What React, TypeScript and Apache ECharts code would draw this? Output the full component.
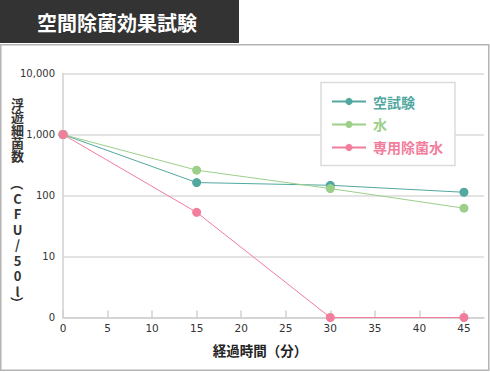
import React, { useEffect, useRef } from 'react';
import * as echarts from 'echarts';

const minutes = [0, 15, 30, 45];
const xTicks = [0, 5, 10, 15, 20, 25, 30, 35, 40, 45];
const yTicks = [1, 10, 100, 1000, 10000];
const seriesNames = ['空試験', '水', '専用除菌水'];
const blankTest = [1000, 163, 147, 113];
const water = [1000, 260, 130, 62];
const special = [1000, 53, 0, 0];
const colors = ['#52a89f', '#9ccf8a', '#f27d9c'];
const titleText = '空間除菌効果試験';
const xName = '経過時間（分）';
const yNameChars = ['浮', '遊', '細', '菌', '数', '（', 'C', 'F', 'U', '/', '5', '0', 'l', '）'];

const CJK = "'Noto Sans CJK JP', 'Noto Sans', sans-serif";
const NUM = "'DejaVu Sans', 'Noto Sans CJK JP', sans-serif";

// zero counts sit on the axis floor (shown as "0")
const toLog = (v: number) => (v <= 0 ? 1 : v);
const fmtNum = (v: number) => (v <= 1 ? '0' : Math.round(v).toLocaleString('en-US'));

export default function App() {
  const ref = useRef<HTMLDivElement>(null);
  useEffect(() => {
    if (!ref.current) return;
    const chart = echarts.init(ref.current, null, { renderer: 'svg' });
    const allSeries = [blankTest, water, special];

    const yNameY = [103, 116, 129, 142, 155, 184, 198, 213.5, 229, 244.5, 260, 275.5, 291, 303];
    const yNameEls = yNameChars.map((ch, i) => ({
      type: 'text',
      x: 17.5,
      y: yNameY[i],
      rotation: ch === '（' || ch === '）' ? -Math.PI / 2 : 0,
      style: {
        text: ch,
        fill: '#333',
        font: `bold 13px ${CJK}`,
        align: 'center',
        verticalAlign: 'middle',
        textAlign: 'center',
        textVerticalAlign: 'middle',
      },
      z: 10,
    }));

    chart.setOption({
      animation: false,
      grid: { left: 63, right: 6, top: 73.5, bottom: 54.5, containLabel: false },
      xAxis: {
        type: 'value',
        min: 0,
        max: 47.25,
        interval: 5,
        axisLine: { show: true, lineStyle: { color: '#d0d0d0', width: 1.5 } },
        axisTick: { show: true, inside: true, length: 7, customValues: xTicks, lineStyle: { color: '#d0d0d0', width: 1.5 } },
        axisLabel: { customValues: xTicks, color: '#333', fontSize: 10.5, fontFamily: NUM, margin: 5 },
        splitLine: { show: false },
      },
      yAxis: {
        type: 'log',
        logBase: 10,
        min: 1,
        max: 10000,
        axisLine: { show: true, lineStyle: { color: '#d0d0d0', width: 1.5 } },
        axisTick: { show: false },
        axisLabel: { customValues: yTicks, formatter: (v: number) => fmtNum(v), color: '#333', fontSize: 10, fontFamily: NUM, margin: 8 },
        splitLine: { show: true, lineStyle: { color: '#dadada', width: 1.5 } },
      },
      legend: {
        orient: 'vertical',
        left: 321,
        top: 82.5,
        padding: [12, 12, 11, 10],
        itemGap: 9,
        itemWidth: 34,
        itemHeight: 9,
        backgroundColor: '#fff',
        borderColor: '#dcdcdc',
        borderWidth: 1.5,
        data: seriesNames.map((n, i) => ({ name: n, textStyle: { color: colors[i] } })),
        textStyle: { fontSize: 14, fontWeight: 'bold', fontFamily: CJK, padding: [0, 0, 0, 2] },
      },
      graphic: [
        { type: 'rect', shape: { x: 0, y: 0, width: 239, height: 43 }, style: { fill: '#333' } },
        {
          type: 'text', x: 117, y: 22,
          style: { text: titleText, fill: '#fff', font: `bold 20px ${CJK}`, align: 'center', verticalAlign: 'middle', textAlign: 'center', textVerticalAlign: 'middle' },
        },
        { type: 'rect', shape: { x: 0.75, y: 44.75, width: 488, height: 325.5 }, style: { fill: 'none', stroke: '#b4b4b4', lineWidth: 1.5 } },
        {
          type: 'text', x: 260, y: 350,
          style: { text: xName, fill: '#222', font: `bold 13.5px ${CJK}`, align: 'center', verticalAlign: 'middle', textAlign: 'center', textVerticalAlign: 'middle' },
        },
        ...yNameEls,
      ],
      series: allSeries.map((d, i) => ({
        name: seriesNames[i],
        type: 'line',
        data: d.map((v, j) => [minutes[j], toLog(v)]),
        symbol: 'circle',
        symbolSize: 9,
        showSymbol: true,
        clip: false,
        color: colors[i],
        lineStyle: { width: 1, color: colors[i] },
        itemStyle: { color: colors[i] },
        z: 2 + i,
      })),
    });
    return () => chart.dispose();
  }, []);
  return <div ref={ref} style={{ position: 'fixed', left: 0, top: 0, width: 490, height: 372, background: '#fff' }} />;
}
